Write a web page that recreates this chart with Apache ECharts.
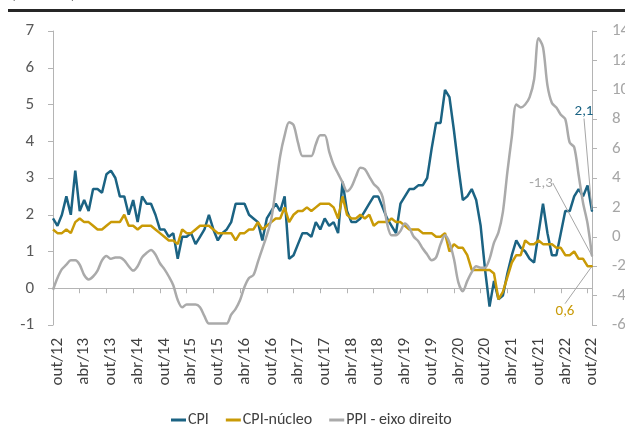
<!DOCTYPE html>
<html>
<head>
<meta charset="utf-8">
<script src="https://cdn.jsdelivr.net/npm/echarts@6/dist/echarts.min.js"></script>
<style>
  html, body { margin: 0; padding: 0; background: #fff; }
  #chart { width: 625px; height: 430px; }
</style>
</head>
<body>
<div id="chart"></div>
<script>
// Monthly series, set/12 .. out/22 (% a/a)
const MONTHS = ['jan', 'fev', 'mar', 'abr', 'mai', 'jun', 'jul', 'ago', 'set', 'out', 'nov', 'dez'];

const cpi = [
  1.9, 1.7, 2.0, 2.5,
  2.0, 3.2, 2.1, 2.4, 2.1, 2.7, 2.7, 2.6, 3.1, 3.2, 3.0, 2.5,
  2.5, 2.0, 2.4, 1.8, 2.5, 2.3, 2.3, 2.0, 1.6, 1.6, 1.4, 1.5,
  0.8, 1.4, 1.4, 1.5, 1.2, 1.4, 1.6, 2.0, 1.6, 1.3, 1.5, 1.6,
  1.8, 2.3, 2.3, 2.3, 2.0, 1.9, 1.8, 1.3, 1.9, 2.1, 2.3, 2.1,
  2.5, 0.8, 0.9, 1.2, 1.5, 1.5, 1.4, 1.8, 1.6, 1.9, 1.7, 1.8,
  1.5, 2.9, 2.1, 1.8, 1.8, 1.9, 2.1, 2.3, 2.5, 2.5, 2.2, 1.9,
  1.7, 1.5, 2.3, 2.5, 2.7, 2.7, 2.8, 2.8, 3.0, 3.8, 4.5, 4.5,
  5.4, 5.2, 4.3, 3.3, 2.4, 2.5, 2.7, 2.4, 1.7, 0.5, -0.5, 0.2,
  -0.3, -0.2, 0.4, 0.9, 1.3, 1.1, 1.0, 0.8, 0.7, 1.5, 2.3, 1.5,
  0.9, 0.9, 1.5, 2.1, 2.1, 2.5, 2.7, 2.5, 2.8, 2.1
];

const cpiCore = [
  1.6, 1.5, 1.5, 1.6,
  1.5, 1.8, 1.9, 1.8, 1.8, 1.7, 1.6, 1.6, 1.7, 1.8, 1.8, 1.8,
  2.0, 1.7, 1.7, 1.6, 1.7, 1.7, 1.7, 1.6, 1.5, 1.4, 1.3, 1.3,
  1.2, 1.6, 1.5, 1.5, 1.6, 1.7, 1.7, 1.7, 1.6, 1.5, 1.5, 1.5,
  1.5, 1.3, 1.5, 1.5, 1.6, 1.6, 1.8, 1.6, 1.7, 1.8, 1.9, 1.9,
  2.2, 1.8, 2.0, 2.1, 2.1, 2.2, 2.1, 2.2, 2.3, 2.3, 2.3, 2.2,
  1.9, 2.5, 2.0, 1.9, 1.9, 2.0, 1.9, 2.0, 1.7, 1.8, 1.8, 1.8,
  1.9, 1.8, 1.8, 1.7, 1.6, 1.6, 1.6, 1.5, 1.5, 1.5, 1.4, 1.4,
  1.5, 1.0, 1.2, 1.1, 1.1, 0.9, 0.5, 0.5, 0.5, 0.5, 0.5, 0.4,
  -0.3, -0.1, 0.3, 0.7, 0.9, 0.9, 1.3, 1.2, 1.2, 1.3, 1.2, 1.2,
  1.2, 1.1, 1.1, 0.9, 0.9, 1.0, 0.8, 0.8, 0.6, 0.6
];

const ppi = [
  -3.6, -2.8, -2.2, -1.9,
  -1.6, -1.6, -1.9, -2.6, -2.9, -2.7, -2.3, -1.6, -1.3, -1.5, -1.4, -1.4,
  -1.6, -2.0, -2.3, -2.0, -1.4, -1.1, -0.9, -1.2, -1.8, -2.2, -2.7, -3.3,
  -4.3, -4.8, -4.6, -4.6, -4.6, -4.8, -5.4, -5.9, -5.9, -5.9, -5.9, -5.9,
  -5.3, -4.9, -4.3, -3.4, -2.8, -2.6, -1.7, -0.8, 0.1, 1.2, 3.3, 5.5,
  6.9, 7.8, 7.6, 6.4, 5.5, 5.5, 5.5, 6.3, 6.9, 6.9, 5.8, 4.9,
  4.3, 3.7, 3.1, 3.4, 4.1, 4.7, 4.6, 4.1, 3.6, 3.3, 2.7, 0.9,
  0.1, 0.1, 0.4, 0.9, 0.6, 0.0, -0.3, -0.8, -1.2, -1.6, -1.4, -0.5,
  0.1, -0.4, -1.5, -3.1, -3.7, -3.0, -2.4, -2.0, -2.1, -2.1, -1.5, -0.4,
  0.3, 1.7, 4.4, 6.8, 9.0, 8.8, 9.0, 9.5, 10.7, 13.5, 12.9, 10.3,
  9.1, 8.8, 8.3, 8.0, 6.4, 6.1, 4.2, 2.3, 0.9, -1.3
];

const categories = cpi.map((_, k) => {
  const t = 8 + k; // first point is set/12
  return MONTHS[t % 12] + '/' + (12 + Math.floor(t / 12));
});

const names = ['CPI', 'CPI-núcleo', 'PPI - eixo direito'];
const endTexts = ['2,1', '0,6', '-1,3'];
const COLORS = ['#1b6383', '#c99a06', '#aaaaaa'];
const FONT = 'Carlito, Lato, sans-serif';
const AXIS_GREY = '#b4b4b4';

// tag the last point with its value label
function withEndLabel(values, text, color) {
  return values.map((v, i) => i === values.length - 1
    ? { value: v, symbol: 'circle', symbolSize: 2,
        label: { show: true, formatter: text, color: color, fontSize: 15, fontFamily: FONT, position: 'inside' } }
    : v);
}

function lineSeries(idx, values, yAxisIndex, dx, dy) {
  return {
    name: names[idx],
    type: 'line',
    yAxisIndex: yAxisIndex,
    data: withEndLabel(values, endTexts[idx], idx === 2 ? '#a6a6a6' : COLORS[idx]),
    symbol: 'none',
    showSymbol: true,
    showAllSymbol: true,
    smooth: idx === 2 ? 0.3 : false,
    lineStyle: { width: 2.5, color: COLORS[idx] },
    itemStyle: { color: COLORS[idx] },
    labelLayout: { dx: dx, dy: dy },
    labelLine: { show: true, lineStyle: { color: '#a6a6a6', width: 1 } },
    emphasis: { disabled: true },
    animation: false
  };
}

const chart = echarts.init(document.getElementById('chart'), null, { renderer: 'canvas' });

chart.setOption({
  backgroundColor: '#ffffff',
  textStyle: { fontFamily: FONT },
  // right labels run off the canvas edge as in the source, so don't let v6 shrink the grid
  grid: { left: 53, right: 33, top: 31, bottom: 105, containLabel: false, outerBoundsMode: 'none' },
  legend: {
    data: names,
    left: 166,
    top: 407,
    icon: 'rect',
    itemWidth: 15,
    itemHeight: 3,
    itemGap: 17,
    textStyle: { fontSize: 16, color: '#404040', fontFamily: FONT, padding: [0, 0, 0, -3] }
  },
  xAxis: [
    {
      type: 'category',
      data: categories,
      boundaryGap: false,
      axisLine: { onZero: true, onZeroAxisIndex: 0, lineStyle: { color: AXIS_GREY, width: 1 } },
      axisTick: { interval: (i) => i % 6 === 0, length: 5, lineStyle: { color: AXIS_GREY } },
      axisLabel: { show: false },
      splitLine: { show: false }
    },
    {
      type: 'category',
      data: categories,
      position: 'bottom',
      boundaryGap: false,
      axisLine: { show: false, onZero: false },
      axisTick: { show: false },
      axisLabel: {
        interval: (i) => i % 6 === 1,
        rotate: 90,
        margin: 13,
        fontSize: 17,
        color: '#404040',
        fontFamily: FONT
      },
      splitLine: { show: false }
    }
  ],
  yAxis: [
    {
      type: 'value',
      min: -1,
      max: 7,
      interval: 1,
      axisLine: { show: true, lineStyle: { color: AXIS_GREY } },
      axisTick: { show: true, length: 5, lineStyle: { color: AXIS_GREY } },
      axisLabel: { margin: 19, fontSize: 17, color: '#595959', fontFamily: FONT },
      splitLine: { show: false }
    },
    {
      type: 'value',
      position: 'right',
      min: -6,
      max: 14,
      interval: 2,
      axisLine: { show: true, lineStyle: { color: AXIS_GREY } },
      axisTick: { show: true, length: 5, lineStyle: { color: AXIS_GREY } },
      axisLabel: { margin: 20, fontSize: 17, color: '#a6a6a6', fontFamily: FONT },
      splitLine: { show: false }
    }
  ],
  graphic: [
    { type: 'rect', left: 8, top: 9, shape: { width: 620, height: 3 }, style: { fill: '#262626' }, silent: true },
    { type: 'text', left: 11, top: -12, style: { text: '(% ao ano)', fontSize: 15, fontFamily: FONT, fill: '#595959' }, silent: true }
  ],
  series: [
    lineSeries(0, cpi, 0, -8, -100),
    lineSeries(1, cpiCore, 0, -27, 45),
    lineSeries(2, ppi, 1, -51, -73)
  ]
});
</script>
</body>
</html>
